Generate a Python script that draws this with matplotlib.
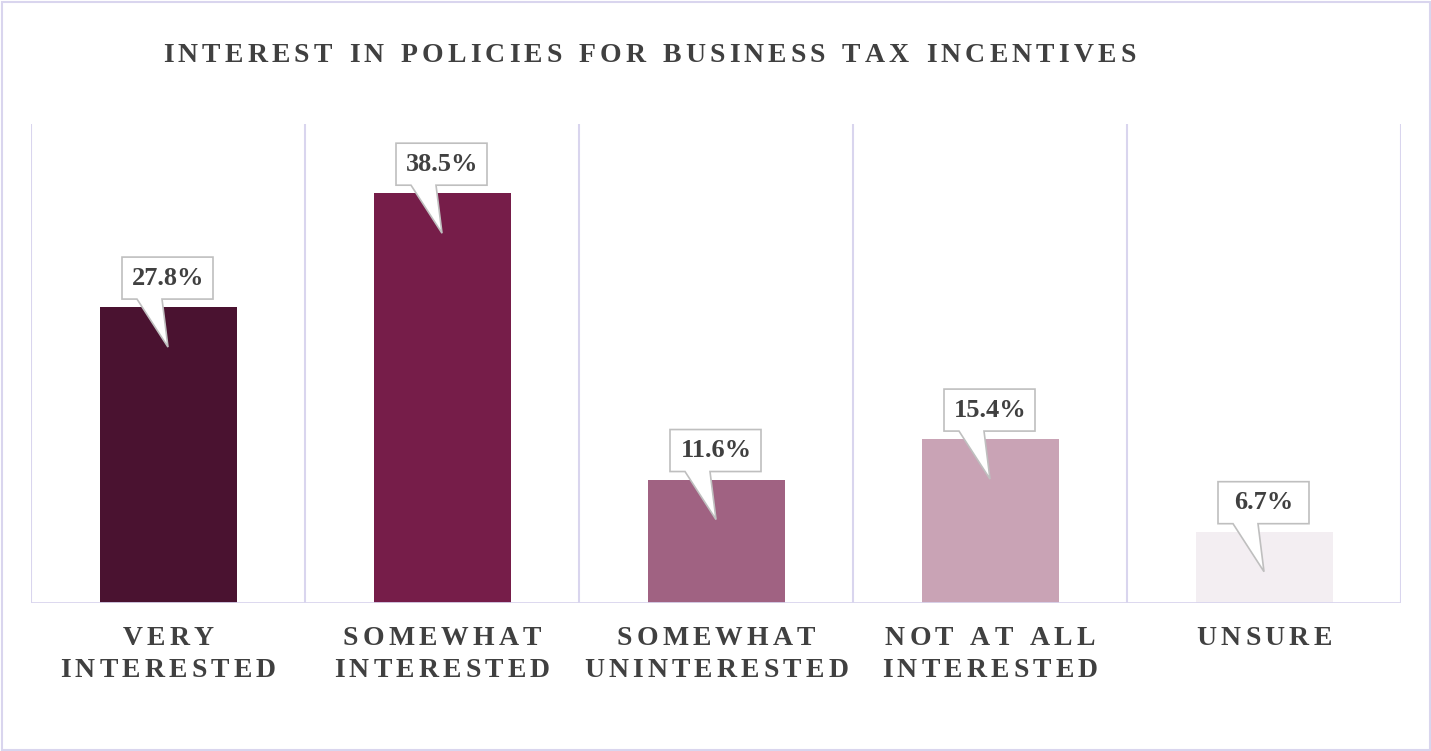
import matplotlib
matplotlib.use("Agg")
import matplotlib.pyplot as plt
import matplotlib.transforms as mtransforms
from matplotlib.patches import Polygon, Rectangle
from matplotlib.font_manager import FontProperties
import numpy as np

# survey answers and shares (%)
categories = [["VERY", "INTERESTED"],
              ["SOMEWHAT", "INTERESTED"],
              ["SOMEWHAT", "UNINTERESTED"],
              ["NOT AT ALL", "INTERESTED"],
              ["UNSURE"]]
values = [27.8, 38.5, 11.6, 15.4, 6.7]
title = "INTEREST IN POLICIES FOR BUSINESS TAX INCENTIVES"

bar_colors = ["#4a1230", "#761d49", "#a06282", "#c9a3b5", "#f3eef2"]
lavender = "#d9d5ee"
text_col = "#404040"

fig = plt.figure(figsize=(14.31, 7.51), dpi=100)
W, H = 1431, 751
ax = fig.add_axes([31 / W, (H - 603) / H, 1370 / W, 479 / H])

x = np.arange(len(values))
ax.bar(x, values, width=0.5, color=bar_colors, zorder=2)
ax.set_xlim(-0.5, len(values) - 0.5)
ax.set_ylim(0, 45)
for s in ax.spines.values():
    s.set_visible(False)
ax.set_xticks([])
ax.set_yticks([])

# separators between categories and the baseline
for b in np.arange(-0.5, len(values), 1.0):
    ax.axvline(b, color=lavender, lw=1.5, zorder=1)
ax.axhline(0, color=lavender, lw=2, zorder=3)

# outer frame
fig.patches.append(Rectangle((1.5, 1.5), W - 3, H - 3, transform=None,
                             fill=False, edgecolor=lavender, lw=1.5))

# callout boxes with a pointer dropping into each bar (pixel offsets)
callout = [(-46, 8), (-31, 8), (0, -40), (-6, 8), (45, 8), (45, 50), (-46, 50)]
for xi, v in zip(x, values):
    tr = mtransforms.Affine2D() + mtransforms.ScaledTranslation(xi, v, ax.transData)
    ax.add_patch(Polygon(callout, closed=True, transform=tr, facecolor="white",
                         edgecolor="#bfbfbf", lw=1.2, zorder=4, clip_on=False))
    ax.text(0, 29, f"{v}%", transform=tr, ha="center", va="center", zorder=5,
            fontsize=19, fontweight="bold", family="Liberation Serif", color=text_col)

fig.canvas.draw()
renderer = fig.canvas.get_renderer()


def spaced_text(px, py, s, size, spacing, ha="left"):
    # draw a string letter by letter with extra tracking, coords in pixels from top-left
    prop = FontProperties(family="Liberation Serif", weight="bold", size=size)
    widths = []
    for c in s:
        if c == " ":
            widths.append(0.3 * size * fig.dpi / 72)
        else:
            widths.append(renderer.get_text_width_height_descent(c, prop, ismath=False)[0])
    total = sum(widths) + spacing * (len(s) - 1)
    x0 = px - total / 2 if ha == "center" else px
    for c, w in zip(s, widths):
        if c != " ":
            fig.text(x0, H - py, c, fontproperties=prop, color=text_col,
                     transform=None, ha="left", va="baseline")
        x0 += w + spacing


spaced_text(163, 62, title, 20, 4.2)

for xi, lines in zip(x, categories):
    cx = ax.transData.transform((xi, 0))[0]
    for j, line in enumerate(lines):
        spaced_text(cx, 645 + 32 * j, line, 20, 4.2, ha="center")

fig.savefig("out.png", dpi=100)
